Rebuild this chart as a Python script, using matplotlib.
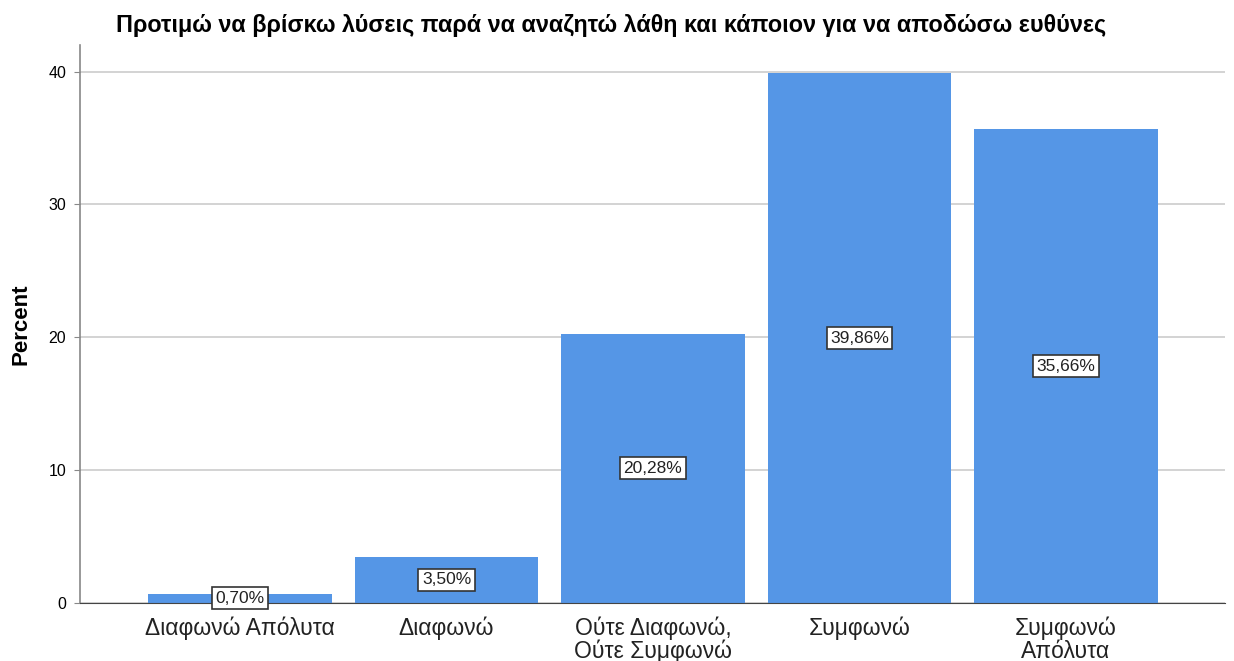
import matplotlib
matplotlib.use('Agg')
import matplotlib.pyplot as plt

## Data
categories = ['Διαφωνώ Απόλυτα', 'Διαφωνώ', 'Ούτε Διαφωνώ,\nΟύτε Συμφωνώ', 'Συμφωνώ', 'Συμφωνώ\nΑπόλυτα']
percents = [0.70, 3.50, 20.28, 39.86, 35.66]
yticks = [0, 10, 20, 30, 40]
title = 'Προτιμώ να βρίσκω λύσεις παρά να αναζητώ λάθη και κάποιον για να αποδώσω ευθύνες'

plt.rcParams['font.family'] = ['Liberation Sans', 'DejaVu Sans']

f = plt.figure(figsize=(12.34, 6.61), dpi=100)
ax = f.add_axes([0.0648, 0.0877, 0.9279, 0.8443])

x = list(range(len(categories)))
ax.bar(x, percents, width=0.89, color='#5596e6', zorder=2)

# value labels in the middle of each bar
for xi, p in zip(x, percents):
    ax.text(xi, p / 2, f'{p:.2f}%'.replace('.', ','), ha='center', va='center',
            fontsize=12.5, zorder=3, color='#222222',
            bbox=dict(boxstyle='square,pad=0.2', fc='white', ec='#333333', lw=1.2))

ax.set_xlim(-0.775, 4.77)
ax.set_ylim(0, 42)
ax.set_yticks(yticks)
ax.yaxis.grid(True, color='#cccccc', lw=1.2, zorder=0)
ax.set_axisbelow(True)
ax.set_xticks(x)
ax.set_xticklabels(categories, fontsize=16.5, linespacing=0.95, color='#222222')
ax.tick_params(axis='x', length=0, pad=10)
ax.tick_params(axis='y', labelsize=11.5, length=4, color='#888888', pad=6)

for side in ['top', 'right']:
    ax.spines[side].set_visible(False)
ax.spines['left'].set_color('#888888')
ax.spines['left'].set_linewidth(1.2)
ax.spines['bottom'].set_color('#444444')

ax.set_ylabel('Percent', fontsize=16, fontweight='bold', labelpad=12)
f.suptitle(title, x=0.495, y=0.962, va='center', fontsize=16.8, fontweight='bold')

f.savefig('out.png', dpi=100)
